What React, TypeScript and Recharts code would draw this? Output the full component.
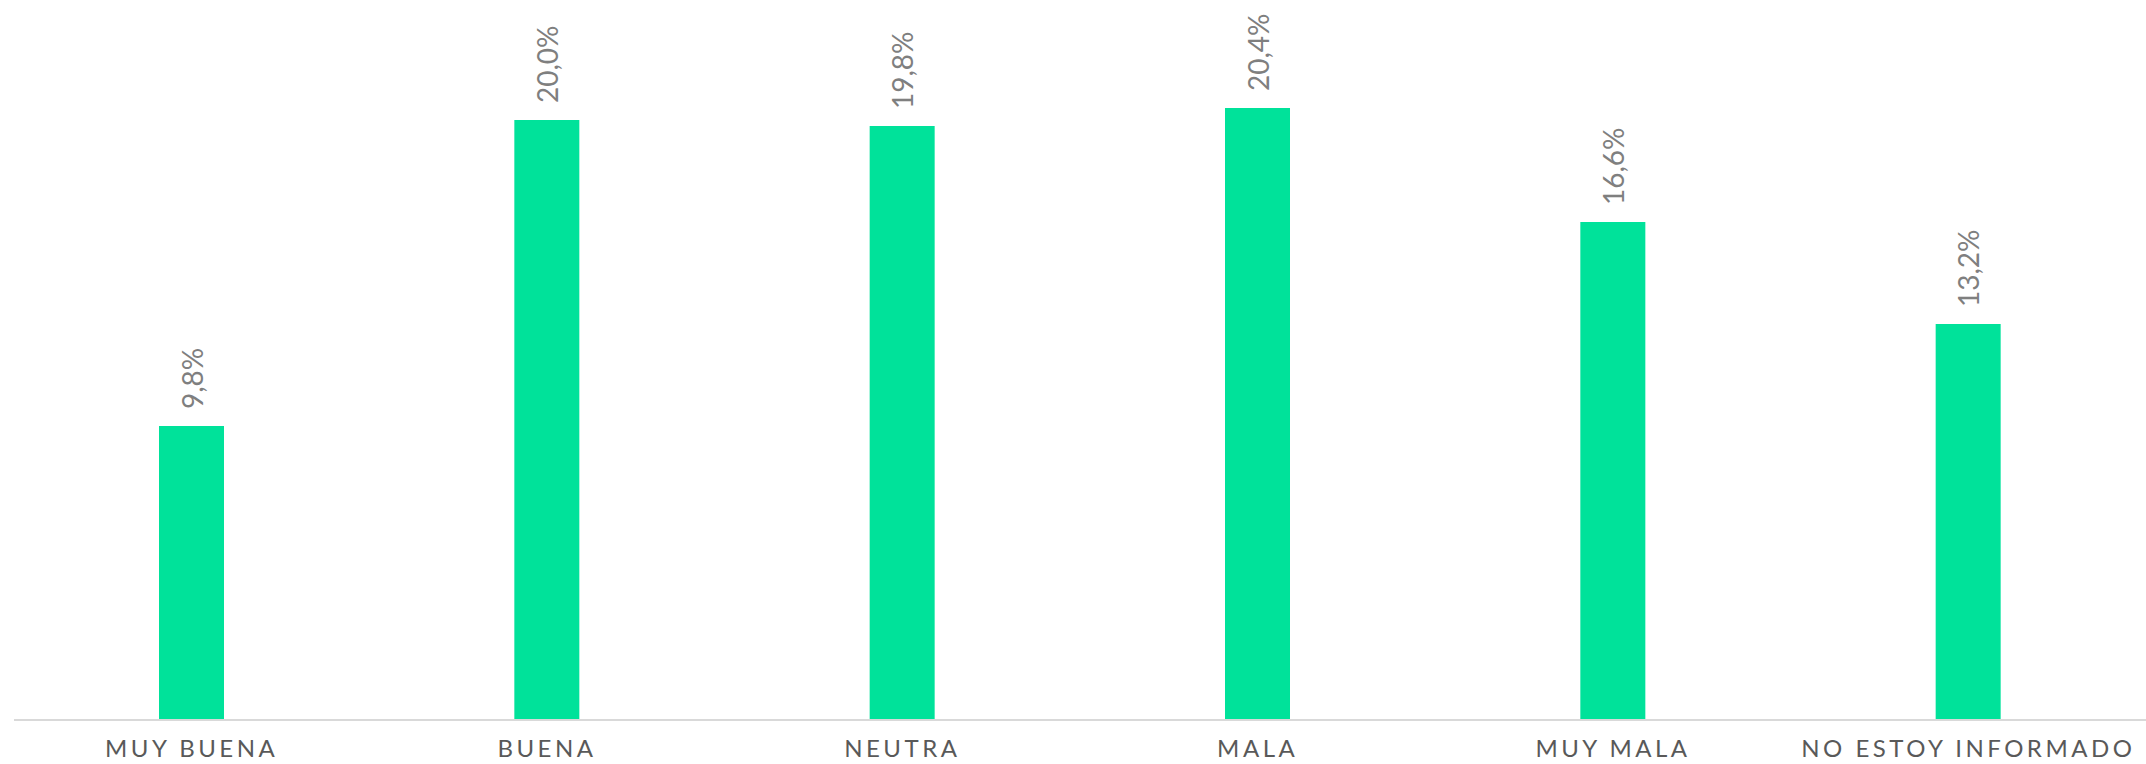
import { Bar, BarChart, LabelList, XAxis, YAxis } from "recharts";

const categories = ["MUY BUENA", "BUENA", "NEUTRA", "MALA", "MUY MALA", "NO ESTOY INFORMADO"];
const shares = [9.8, 20.0, 19.8, 20.4, 16.6, 13.2];

const data = categories.map((name, i) => ({ name, value: shares[i] }));

const fmt = (v: number) => v.toFixed(1).replace(".", ",") + "%";

function RotatedLabel(props: any) {
  const { x, y, width, value } = props;
  const cx = x + width / 2;
  const cy = y - 17;
  return (
    <text
      x={cx}
      y={cy}
      transform={`rotate(-90 ${cx} ${cy})`}
      textAnchor="start"
      dominantBaseline="central"
      fontSize={28}
      fill="#7f7f7f"
      fontFamily="Lato, sans-serif"
    >
      {fmt(value)}
    </text>
  );
}

export default function App() {
  return (
    <div style={{ position: "absolute", left: 0, top: 0, background: "#fff" }}>
      <BarChart
        width={2146}
        height={764}
        data={data}
        margin={{ top: 0, right: 0, left: 14, bottom: 0 }}
        barSize={65}
      >
        <XAxis
          dataKey="name"
          height={44}
          axisLine={{ stroke: "#d9d9d9", strokeWidth: 2 }}
          tickLine={false}
          interval={0}
          tick={{ fontSize: 24, fill: "#595959", fontFamily: "Lato, sans-serif", letterSpacing: 3.5 }}
          tickMargin={14}
        />
        <YAxis hide domain={[0, 24]} />
        <Bar dataKey="value" fill="#00e29a" isAnimationActive={false}>
          <LabelList dataKey="value" content={<RotatedLabel />} />
        </Bar>
      </BarChart>
    </div>
  );
}
